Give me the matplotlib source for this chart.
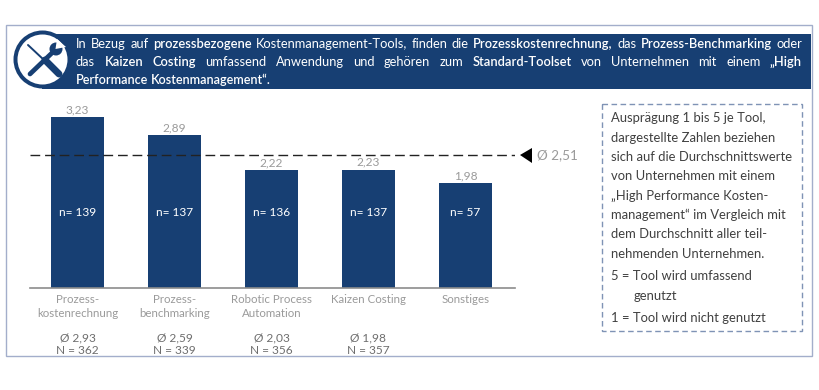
import matplotlib
matplotlib.use("Agg")
import matplotlib.pyplot as plt
from matplotlib.patches import Rectangle, Circle, Polygon

plt.rcParams['font.family'] = ['Lato', 'DejaVu Sans']

categories = ["Prozess-\nkostenrechnung", "Prozess-\nbenchmarking", "Robotic Process\nAutomation",
              "Kaizen Costing", "Sonstiges"]
values = [3.23, 2.89, 2.22, 2.23, 1.98]
n_inside = [139, 137, 136, 137, 57]
avg_all = ["2,93", "2,59", "2,03", "1,98", None]
n_all = [362, 339, 356, 357, None]
mean_line = 2.51

banner_lines = [
    [("In Bezug auf ", 0), ("prozessbezogene", 1), (" Kostenmanagement-Tools, finden die ", 0),
     ("Prozesskostenrechnung,", 1), (" das ", 0), ("Prozess-Benchmarking", 1), (" oder", 0)],
    [("das ", 0), ("Kaizen Costing", 1), (" umfassend Anwendung und gehören zum ", 0),
     ("Standard-Toolset", 1), (" von Unternehmen mit einem ", 0), ("„High", 1)],
    [("Performance Kostenmanagement“.", 1)],
]
note_lines = ["Ausprägung 1 bis 5 je Tool,", "dargestellte Zahlen beziehen", "sich auf die Durchschnittswerte",
              "von Unternehmen mit einem", "„High Performance Kosten-", "management“ im Vergleich mit",
              "dem Durchschnitt aller teil-", "nehmenden Unternehmen."]

NAVY = "#173F73"
GREY = "#9A9A9A"
FRAME = "#A3AECB"

fig = plt.figure(figsize=(8.2, 3.9), dpi=100)
W, H = 820, 390

# overlay in pixel coordinates for the frame, banner and note box
bg = fig.add_axes([0, 0, 1, 1])
bg.set_xlim(0, W)
bg.set_ylim(H, 0)
bg.axis("off")

bg.add_patch(Rectangle((6, 25), 806, 331, fill=False, ec=FRAME, lw=1))
bg.add_patch(Rectangle((42, 34), 769, 55, fc=NAVY, ec="none"))


def draw_line(y, segs, x0, x1=None, size=9.3):
    """one banner line, stretched to x1 by widening the spaces"""
    r = fig.canvas.get_renderer()
    words = []
    for txt, bold in segs:
        parts = txt.split(" ")
        for i, p in enumerate(parts):
            if i > 0:
                words.append(None)
            if p:
                words.append((p, bold))
    arts = []
    total = 0
    for w in words:
        if w is None:
            continue
        t = bg.text(0, y, w[0], color="white", fontsize=size, va="center", ha="left",
                    fontweight="semibold" if w[1] else "normal")
        total += t.get_window_extent(r).width
        arts.append(t)
    gaps = sum(1 for w in words if w is None)
    gap = 3.0
    if x1 is not None and gaps:
        gap = (x1 - x0 - total) / gaps
    x = x0
    k = 0
    for w in words:
        if w is None:
            x += gap
        else:
            arts[k].set_x(x)
            x += arts[k].get_window_extent(r).width
            k += 1


draw_line(44, banner_lines[0], 76, 802)
draw_line(62, banner_lines[1], 76, 802)
draw_line(80, banner_lines[2], 76, size=9.0)

# tool icon
bg.add_patch(Circle((42.5, 59.5), 29, fc=NAVY, ec="none", zorder=3))
bg.add_patch(Circle((42.5, 59.5), 25, fc="white", ec="none", zorder=4))
bg.plot([28, 44], [45, 60], color=NAVY, lw=1.4, zorder=5, solid_capstyle="round")
bg.plot([45, 59], [60, 74], color=NAVY, lw=5, zorder=5, solid_capstyle="round")
bg.plot([30, 54], [74, 51], color=NAVY, lw=3.4, zorder=5, solid_capstyle="round")
bg.add_patch(Circle((56, 49), 6.5, fc=NAVY, ec="none", zorder=5))
bg.add_patch(Polygon([[55.5, 49], [57, 39], [66, 47]], fc="white", ec="none", zorder=6))

# note box
bg.add_patch(Rectangle((602, 104), 200.5, 227, fill=False, ec="#7F93B5", lw=1, ls=(0, (4, 2.5))))
for i, line in enumerate(note_lines):
    bg.text(611, 118.5 + i * 19.3, line, fontsize=9.4, color="#404040", va="center", ha="left")
bg.text(611, 276, "5 = Tool wird umfassend", fontsize=9.4, color="#404040", va="center")
bg.text(634, 296, "genutzt", fontsize=9.4, color="#404040", va="center")
bg.text(611, 318, "1 = Tool wird nicht genutzt", fontsize=9.4, color="#404040", va="center")

# bar chart
left, right, base, top = 30, 515, 287.6, 100
ax = fig.add_axes([left / W, 1 - base / H, (right - left) / W, (base - top) / H])
ax.patch.set_alpha(0)
ax.set_xlim(-0.49, 4.51)
ax.set_ylim(0, (base - top) / 52.8)
xs = range(len(values))
ax.bar(xs, values, width=0.555, color=NAVY, zorder=2)
ax.axhline(mean_line, color="#222222", lw=1, ls=(0, (7, 3.5)), zorder=3)
for spine in ["top", "left", "right"]:
    ax.spines[spine].set_visible(False)
ax.spines["bottom"].set_color("#8C8C8C")
ax.spines["bottom"].set_linewidth(1.2)
ax.set_yticks([])
ax.set_xticks(list(xs))
ax.set_xticklabels(categories, fontsize=8.3, color=GREY, linespacing=1.35)
ax.tick_params(axis="x", length=0, pad=4.5)

for i, v in enumerate(values):
    ax.annotate(f"{v:.2f}".replace(".", ","), (i, v), xytext=(0, 1.5), textcoords="offset points",
                ha="center", va="bottom", fontsize=8.6, color=GREY)
    ax.text(i, 1.43, f"n= {n_inside[i]}", ha="center", va="center", fontsize=8.6, color="white", zorder=4)
    if avg_all[i] is not None:
        bx = 77.5 + 97 * i
        bg.text(bx, 338, f"Ø {avg_all[i]}", ha="center", va="center", fontsize=8.6, color="#6E6E6E")
        bg.text(bx, 351, f"N = {n_all[i]}", ha="center", va="center", fontsize=8.6, color="#6E6E6E")

# marker and label of the mean line
bg.add_patch(Polygon([[520, 155], [532, 148], [532, 163]], fc="#000000", ec="none"))
bg.text(537, 155, "Ø 2,51", fontsize=9.7, color=GREY, va="center", ha="left")

fig.savefig("out.png", dpi=100)
